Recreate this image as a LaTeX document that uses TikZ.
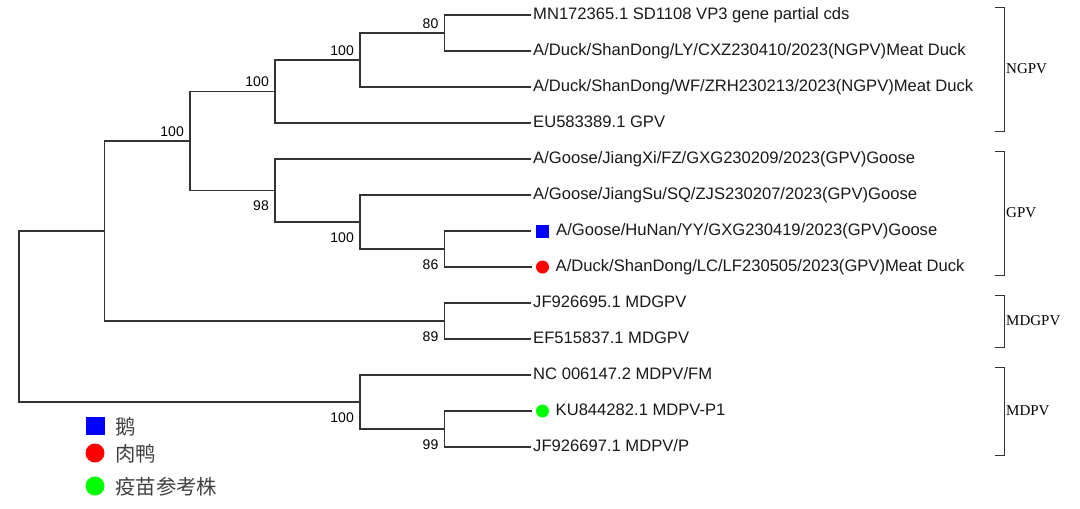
\documentclass[tikz,border=0pt]{standalone}
\usepackage{fontspec}
\setmainfont{Liberation Sans}
\newfontfamily\cladefont{Liberation Serif}
\newfontfamily\cjk{Noto Sans CJK SC}
\usetikzlibrary{positioning}
\definecolor{tr_line}{RGB}{51, 51, 51}
\definecolor{lg_text}{RGB}{64, 64, 64}
\tikzstyle{lf}=[anchor=west,inner sep=2pt,text height=12pt,text depth=4pt,
  text=black!90,font=\fontsize{16.6}{18}\selectfont]
\tikzstyle{bs}=[inner sep=0pt,font=\fontsize{14}{16}\selectfont]
\tikzstyle{br}=[draw=tr_line,line width=1.2pt]
\tikzstyle{cl}=[anchor=west,inner sep=1pt,font=\cladefont\fontsize{15}{17}\selectfont]
\tikzstyle{sq}=[rectangle,fill=blue,minimum size=13pt,inner sep=0pt,outer sep=5pt]
\tikzstyle{dot}=[circle,minimum size=13pt,inner sep=0pt,outer sep=4.5pt]
\tikzstyle{lg}=[anchor=west,inner sep=0pt,text=lg_text,font=\cjk\fontsize{20.4}{22}\selectfont]

\begin{document}
\begin{tikzpicture}[x=1pt,y=-1pt]
    \useasboundingbox (0,0) rectangle (1080,509);
    % leaves
    \node [style=lf] (l1) at (531,15) {MN172365.1 SD1108 VP3 gene partial cds};
    \node [style=lf] (l2) at (531,51) {A/Duck/ShanDong/LY/CXZ230410/2023(NGPV)Meat Duck};
    \node [style=lf] (l3) at (531,87) {A/Duck/ShanDong/WF/ZRH230213/2023(NGPV)Meat Duck};
    \node [style=lf] (l4) at (531,123) {EU583389.1 GPV};
    \node [style=lf] (l5) at (531,159) {A/Goose/JiangXi/FZ/GXG230209/2023(GPV)Goose};
    \node [style=lf] (l6) at (531,195) {A/Goose/JiangSu/SQ/ZJS230207/2023(GPV)Goose};
    \node [style=sq] (l7) at (542.5,231) {};
    \node [style=lf] (t7) at (l7.east) {A/Goose/HuNan/YY/GXG230419/2023(GPV)Goose};
    \node [style=dot,fill=red] (l8) at (542.5,267) {};
    \node [style=lf] (t8) at (l8.east) {A/Duck/ShanDong/LC/LF230505/2023(GPV)Meat Duck};
    \node [style=lf] (l9) at (531,303) {JF926695.1 MDGPV};
    \node [style=lf] (l10) at (531,339) {EF515837.1 MDGPV};
    \node [style=lf] (l11) at (531,375) {NC 006147.2 MDPV/FM};
    \node [style=dot,fill=green] (l12) at (542.5,411) {};
    \node [style=lf] (t12) at (l12.east) {KU844282.1 MDPV-P1};
    \node [style=lf] (l13) at (531,447) {JF926697.1 MDPV/P};
    % inner nodes
    \coordinate (n80) at (444.5,33);
    \coordinate (na) at (360,60);
    \coordinate (nb) at (275,91.5);
    \coordinate (n86) at (444.5,249);
    \coordinate (nd) at (360,222);
    \coordinate (n98) at (275,190.5);
    \coordinate (nc) at (190,141);
    \coordinate (n89) at (444.5,321);
    \coordinate (ne) at (104.5,231);
    \coordinate (n99) at (444.5,429);
    \coordinate (nf) at (360,402);
    \coordinate (root) at (19,316.5);
    % branches
    \draw [style=br] (n80) |- (l1);
    \draw [style=br] (n80) |- (l2);
    \draw [style=br] (na) |- (n80);
    \draw [style=br] (na) |- (l3);
    \draw [style=br] (nb) |- (na);
    \draw [style=br] (nb) |- (l4);
    \draw [style=br] (n86) |- (l7);
    \draw [style=br] (n86) |- (l8);
    \draw [style=br] (nd) |- (l6);
    \draw [style=br] (nd) |- (n86);
    \draw [style=br] (n98) |- (l5);
    \draw [style=br] (n98) |- (nd);
    \draw [style=br] (nc) |- (nb);
    \draw [style=br] (nc) |- (n98);
    \draw [style=br] (n89) |- (l9);
    \draw [style=br] (n89) |- (l10);
    \draw [style=br] (ne) |- (nc);
    \draw [style=br] (ne) |- (n89);
    \draw [style=br] (n99) |- (l12);
    \draw [style=br] (n99) |- (l13);
    \draw [style=br] (nf) |- (l11);
    \draw [style=br] (nf) |- (n99);
    \draw [style=br] (root) |- (ne);
    \draw [style=br] (root) |- (nf);
    % bootstrap values
    \node [style=bs,anchor=base east] (b80) at (438.5,28) {80};
    \node [style=bs,anchor=base east] (bna) at (354,55) {100};
    \node [style=bs,anchor=base east] (bnb) at (269,86.5) {100};
    \node [style=bs,anchor=base east] (bnc) at (184,136) {100};
    \node [style=bs,anchor=base east] (b98) at (269,210.5) {98};
    \node [style=bs,anchor=base east] (bnd) at (354,242) {100};
    \node [style=bs,anchor=base east] (b86) at (438.5,269) {86};
    \node [style=bs,anchor=base east] (b89) at (438.5,341) {89};
    \node [style=bs,anchor=base east] (bnf) at (354,422) {100};
    \node [style=bs,anchor=base east] (b99) at (438.5,449) {99};
    % clades
    \draw [style=br,line width=1pt] (995,7) -- (1004,7) -- (1004,131) -- (995,131);
    \node [style=cl] (ngpv) at (1005,69) {NGPV};
    \draw [style=br,line width=1pt] (995,151) -- (1004,151) -- (1004,275) -- (995,275);
    \node [style=cl] (gpv) at (1005,213) {GPV};
    \draw [style=br,line width=1pt] (995,295) -- (1004,295) -- (1004,347) -- (995,347);
    \node [style=cl] (mdgpv) at (1005,321) {MDGPV};
    \draw [style=br,line width=1pt] (995,367) -- (1004,367) -- (1004,455) -- (995,455);
    \node [style=cl] (mdpv) at (1005,411) {MDPV};
    % legend
    \node [rectangle,fill=blue,minimum width=19pt,minimum height=18pt,inner sep=0pt] (k1) at (95.5,426) {};
    \node [style=lg] (g1) at (115,427) {鹅};
    \node [circle,fill=red,minimum size=19pt,inner sep=0pt] (k2) at (95,453) {};
    \node [style=lg] (g2) at (115,454) {肉鸭};
    \node [circle,fill=green,minimum size=19pt,inner sep=0pt] (k3) at (95,486) {};
    \node [style=lg] (g3) at (115,487) {疫苗参考株};
  \end{tikzpicture}
\end{document}
